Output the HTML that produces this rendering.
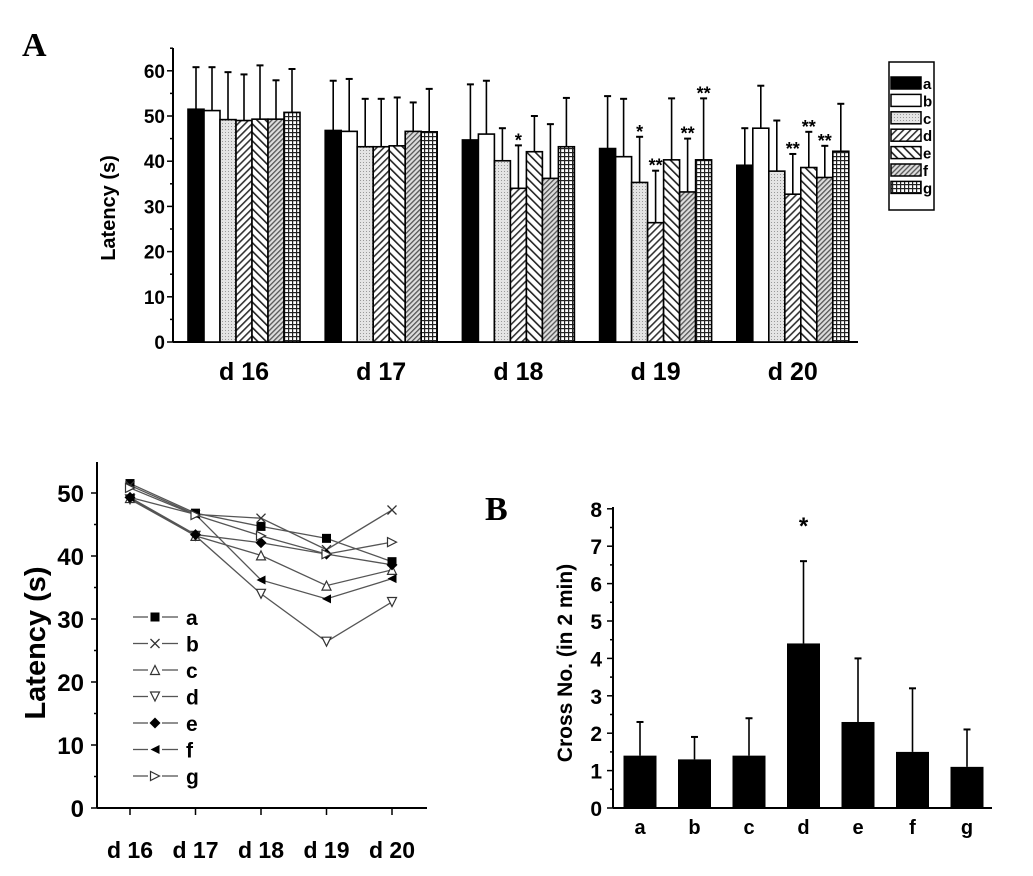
<!DOCTYPE html>
<html><head><meta charset="utf-8"><style>
html,body{margin:0;padding:0;background:#fff}
svg{display:block}
text{font-family:"Liberation Sans",Arial,sans-serif;font-weight:bold;fill:#000}
</style></head><body>
<svg id="fig" width="1033" height="876" viewBox="0 0 1033 876" xmlns="http://www.w3.org/2000/svg">
<defs>
<pattern id="p-c" width="3" height="3" patternUnits="userSpaceOnUse"><rect width="3" height="3" fill="#e4e4e4"/><rect width="1" height="1" fill="#999"/></pattern>
<pattern id="p-d" width="5" height="5" patternUnits="userSpaceOnUse" patternTransform="rotate(45)"><rect width="5" height="5" fill="#fff"/><rect width="1.6" height="5" fill="#333"/></pattern>
<pattern id="p-e" width="6" height="6" patternUnits="userSpaceOnUse" patternTransform="rotate(-45)"><rect width="6" height="6" fill="#fff"/><rect width="1.6" height="6" fill="#222"/></pattern>
<pattern id="p-f" width="3.5" height="3.5" patternUnits="userSpaceOnUse" patternTransform="rotate(45)"><rect width="3.5" height="3.5" fill="#ddd"/><rect width="1.3" height="3.5" fill="#555"/></pattern>
<pattern id="p-g" width="4" height="4" patternUnits="userSpaceOnUse"><rect width="4" height="4" fill="#fff"/><rect width="4" height="1.2" fill="#222"/><rect width="1.2" height="4" fill="#222"/></pattern>
</defs>
<text x="22" y="56" style="font-family:'Liberation Serif',serif;font-size:34px">A</text>
<text x="485" y="520" style="font-family:'Liberation Serif',serif;font-size:34px">B</text>
<g id="chartA"></g>
<g id="chartL"></g>
<g id="chartB"></g>
</svg>
<script>
const days = ["d16","d17","d18","d19","d20"];
const groups = ["a","b","c","d","e","f","g"];
const latA = [51.5,46.8,44.7,42.8,39.1];
const latB = [51.2,46.6,46.0,41.0,47.3];
const latC = [49.2,43.2,40.1,35.3,37.8];
const latD = [49.0,43.2,34.0,26.4,32.7];
const latE = [49.3,43.4,42.1,40.3,38.6];
const latF = [49.3,46.6,36.2,33.2,36.4];
const latG = [50.8,46.5,43.2,40.3,42.2];
const errTopA = [60.8,57.8,57.0,54.4,47.3];
const errTopB = [60.8,58.2,57.8,53.8,56.7];
const errTopC = [59.7,53.8,47.3,45.4,49.0];
const errTopD = [59.2,53.8,43.5,37.9,41.6];
const errTopE = [61.2,54.1,50.0,53.9,46.5];
const errTopF = [57.9,53.0,48.2,45.0,43.4];
const errTopG = [60.4,56.0,54.0,53.9,52.7];
const starsA = [["","","","","","",""],["","","","","","",""],["","","","*","","",""],["","","*","**","","**","**"],["","","","**","**","**",""]];
const latTicks = [0,10,20,30,40,50,60];
const lineTicks = [0,10,20,30,40,50];
const crossVals = [1.4,1.3,1.4,4.4,2.3,1.5,1.1];
const crossErr = [2.3,1.9,2.4,6.6,4.0,3.2,2.1];
const crossStars = ["","","","*","","",""];
const crossTicks = [0,1,2,3,4,5,6,7,8];

const NS="http://www.w3.org/2000/svg";
function mk(parent,tag,attrs,text){const e=document.createElementNS(NS,tag);for(const k in attrs)e.setAttribute(k,attrs[k]);if(text!==undefined)e.textContent=text;parent.appendChild(e);return e;}
const series=[latA,latB,latC,latD,latE,latF,latG];
const errs=[errTopA,errTopB,errTopC,errTopD,errTopE,errTopF,errTopG];
const fills=["#000","#fff","url(#p-c)","url(#p-d)","url(#p-e)","url(#p-f)","url(#p-g)"];

// ---- Chart A ----
(function(){
const g=document.getElementById('chartA');
const y=v=>342-v*4.52, x0=173, gx=d=>188+d*137.2, bw=16;
mk(g,'line',{x1:x0,y1:48,x2:x0,y2:342,stroke:'#000','stroke-width':2});
mk(g,'line',{x1:x0,y1:342,x2:858,y2:342,stroke:'#000','stroke-width':2});
for(let v=0;v<=65;v+=5){mk(g,'line',{x1:x0-(v%10?3:6),y1:y(v),x2:x0,y2:y(v),stroke:'#000','stroke-width':1.5});}
latTicks.forEach(v=>{const t=mk(g,'text',{x:165,y:y(v)+7,'text-anchor':'end','font-size':19},v);

});
const yt=mk(g,'text',{x:115,y:208,'text-anchor':'middle','font-size':20,transform:'rotate(-90 115 208)'},'Latency (s)');


days.forEach((dname,d)=>{
 series.forEach((s,i)=>{
  const bx=gx(d)+i*bw, cx=bx+bw/2;
  const eb=mk(g,'line',{x1:cx,y1:y(errs[i][d]),x2:cx,y2:y(s[d]),stroke:'#000','stroke-width':1.6});
  
  
  mk(g,'line',{x1:cx-3.5,y1:y(errs[i][d]),x2:cx+3.5,y2:y(errs[i][d]),stroke:'#000','stroke-width':2});
  const r=mk(g,'rect',{x:bx,y:y(s[d]),width:bw,height:342-y(s[d]),fill:fills[i],stroke:'#000','stroke-width':1.6});
  
  
  const st=starsA[d][i];
  if(st){const t=mk(g,'text',{x:cx,y:y(errs[i][d])+1,'text-anchor':'middle','font-size':18},st);
  
  }
 });
 const t=mk(g,'text',{x:gx(d)+56,y:380,'text-anchor':'middle','font-size':25},dname.replace('d','d '));
 
 
});
const lg=mk(g,'g',{});


mk(lg,'rect',{x:889,y:62,width:45,height:148,fill:'#fff',stroke:'#000','stroke-width':1.5});
groups.forEach((n,i)=>{const yy=77+i*17.4;
 const r=mk(lg,'rect',{x:891,y:yy,width:30,height:12,fill:fills[i],stroke:'#000','stroke-width':1.5});
 
 
 mk(lg,'text',{x:923,y:yy+12,'font-size':15,'font-weight':'normal'},n);});
})();

// ---- Line chart ----
(function(){
const g=document.getElementById('chartL');
const y=v=>808-v*6.3, x=d=>130+d*65.5, x0=97;
mk(g,'line',{x1:x0,y1:462,x2:x0,y2:808,stroke:'#000','stroke-width':2});
mk(g,'line',{x1:x0,y1:808,x2:427,y2:808,stroke:'#000','stroke-width':2});
for(let v=0;v<=50;v+=5)mk(g,'line',{x1:x0-(v%10?3:6),y1:y(v),x2:x0,y2:y(v),stroke:'#000','stroke-width':1.5});
days.forEach((dn,d)=>{mk(g,'line',{x1:x(d),y1:808,x2:x(d),y2:815,stroke:'#000','stroke-width':1.5});
 const t=mk(g,'text',{x:x(d),y:858,'text-anchor':'middle','font-size':23},dn.replace('d','d '));
 
 });
lineTicks.forEach(v=>{const t=mk(g,'text',{x:84,y:y(v)+9,'text-anchor':'end','font-size':24},v);
 
 });
const yt=mk(g,'text',{x:45,y:643,'text-anchor':'middle','font-size':29,transform:'rotate(-90 45 643)'},'Latency (s)');


function marker(p,i,cx,cy){const s=4.5;
 if(i===0)mk(p,'rect',{x:cx-s,y:cy-s,width:2*s,height:2*s,fill:'#000'});
 else if(i===1){mk(p,'path',{d:`M${cx-s} ${cy-s}L${cx+s} ${cy+s}M${cx-s} ${cy+s}L${cx+s} ${cy-s}`,stroke:'#333','stroke-width':1.3});}
 else if(i===2)mk(p,'path',{d:`M${cx} ${cy-s}L${cx+s} ${cy+s}L${cx-s} ${cy+s}Z`,fill:'#fff',stroke:'#333','stroke-width':1.2});
 else if(i===3)mk(p,'path',{d:`M${cx} ${cy+s}L${cx+s} ${cy-s}L${cx-s} ${cy-s}Z`,fill:'#fff',stroke:'#333','stroke-width':1.2});
 else if(i===4)mk(p,'path',{d:`M${cx} ${cy-s-1}L${cx+s+1} ${cy}L${cx} ${cy+s+1}L${cx-s-1} ${cy}Z`,fill:'#000'});
 else if(i===5)mk(p,'path',{d:`M${cx-s} ${cy}L${cx+s} ${cy-s}L${cx+s} ${cy+s}Z`,fill:'#000'});
 else mk(p,'path',{d:`M${cx+s} ${cy}L${cx-s} ${cy-s}L${cx-s} ${cy+s}Z`,fill:'#fff',stroke:'#333','stroke-width':1.2});}
series.forEach((s,i)=>{
 const pts=s.map((v,d)=>x(d)+','+y(v)).join(' ');
 const pl=mk(g,'polyline',{points:pts,fill:'none',stroke:'#555','stroke-width':1.3});
 
 
 s.forEach((v,d)=>marker(g,i,x(d),y(v)));
});
groups.forEach((n,i)=>{const yy=617+i*26.5;
 const le=mk(g,'g',{});
 
 
 mk(le,'line',{x1:133,y1:yy,x2:148,y2:yy,stroke:'#555','stroke-width':1.3});
 mk(le,'line',{x1:162,y1:yy,x2:178,y2:yy,stroke:'#555','stroke-width':1.3});
 marker(le,i,155,yy);
 mk(le,'text',{x:186,y:yy+8,'font-size':21,'font-weight':'normal'},n);});
})();

// ---- Chart B ----
(function(){
const g=document.getElementById('chartB');
const y=v=>808-v*37.4, x=i=>640+i*54.5, x0=613, bw=33;
mk(g,'line',{x1:x0,y1:507,x2:x0,y2:808,stroke:'#000','stroke-width':2});
mk(g,'line',{x1:x0,y1:808,x2:992,y2:808,stroke:'#000','stroke-width':2});
for(let v=0;v<=8;v+=0.5)mk(g,'line',{x1:x0-(v%1?3:6),y1:y(v),x2:x0,y2:y(v),stroke:'#000','stroke-width':1.5});
crossTicks.forEach(v=>{const t=mk(g,'text',{x:602,y:y(v)+8,'text-anchor':'end','font-size':21},v);
 
 });
const yt=mk(g,'text',{x:572,y:663,'text-anchor':'middle','font-size':21,transform:'rotate(-90 572 663)'},'Cross No. (in 2 min)');


crossVals.forEach((v,i)=>{
 const cx=x(i);
 mk(g,'line',{x1:cx,y1:y(crossErr[i]),x2:cx,y2:y(v),stroke:'#000','stroke-width':1.6});
 mk(g,'line',{x1:cx-3.5,y1:y(crossErr[i]),x2:cx+3.5,y2:y(crossErr[i]),stroke:'#000','stroke-width':2});
 const r=mk(g,'rect',{x:cx-bw/2,y:y(v),width:bw,height:808-y(v),fill:'#000'});
 
 
 const t=mk(g,'text',{x:cx,y:834,'text-anchor':'middle','font-size':20},groups[i]);
 
 
 if(crossStars[i]){const s=mk(g,'text',{x:cx,y:534,'text-anchor':'middle','font-size':24},crossStars[i]);
 
 }
});
})();
</script>
</body></html>
